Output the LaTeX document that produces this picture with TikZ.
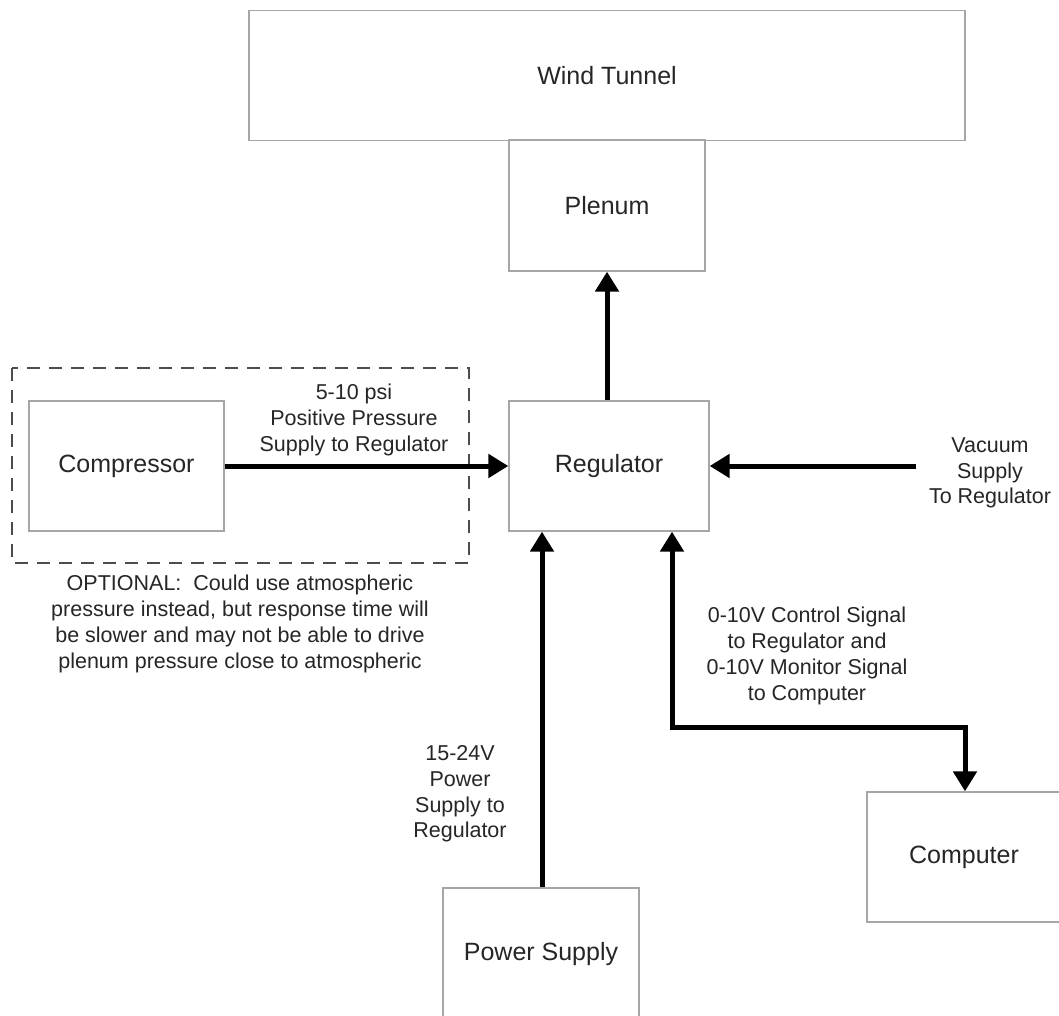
\documentclass[tikz,border=0pt]{standalone}
\usepackage{fontspec}
\setmainfont{Liberation Sans}
\usetikzlibrary{arrows.meta}
\begin{document}
\begin{tikzpicture}[x=1pt,y=-1pt,
  blk/.style={draw=black!35,line width=1.3pt,fill=white,inner sep=0pt,
    font=\fontsize{25}{29}\selectfont,text=black!85},
  lbl/.style={align=center,inner sep=0pt,font=\fontsize{21.5}{25.8}\selectfont,text=black!85},
  conn/.style={line width=5pt,-{Triangle[length=20pt,width=23pt]}},
  conn2/.style={line width=5pt,{Triangle[length=20pt,width=23pt]}-{Triangle[length=20pt,width=23pt]}}]
\useasboundingbox (0,0) rectangle (1059,1016);
\fill[white] (0,0) rectangle (1059,1016);
% dashed optional box
\draw[black!70,line width=2pt,dash pattern=on 13pt off 9pt] (12,368) rectangle (469,563);
% blocks
\node[blk,minimum width=716pt,minimum height=130pt] (wt) at (607,75.5) {Wind Tunnel};
\node[blk,minimum width=196pt,minimum height=131pt] (pl) at (607,205.5) {Plenum};
\node[blk,minimum width=200pt,minimum height=130pt] (reg) at (609,466) {Regulator};
\node[blk,minimum width=195pt,minimum height=130pt] (comp) at (126.5,466) {Compressor};
\node[blk,minimum width=194pt,minimum height=130pt] (pc) at (964,857) {Computer};
\node[blk,minimum width=196pt,minimum height=132pt] (ps) at (541,954) {Power Supply};
% coordinates
\coordinate (vac) at (916,466);
% connectors
\draw[conn] (reg.north -| 607,0) -- (pl.south -| 607,0);
\draw[conn] (comp.east) -- (reg.west);
\draw[conn] (vac) -- (reg.east);
\draw[conn] (ps.north -| 542,0) -- (reg.south -| 542,0);
\draw[conn2,line join=miter] (reg.south -| 672,0) -- (672,727) -- (965,727) -- (pc.north -| 965,0);
% labels
\node[lbl] (l1) at (354,420) {5-10 psi\\Positive Pressure\\Supply to Regulator};
\node[lbl] (l2) at (990,473) {Vacuum\\Supply\\To Regulator};
\node[lbl] (l3) at (807,656) {0-10V Control Signal\\to Regulator and\\0-10V Monitor Signal\\to Computer};
\node[lbl] (l4) at (460,794) {15-24V\\Power\\Supply to\\Regulator};
\node[lbl] (l5) at (240,624) {OPTIONAL:\ \ Could use atmospheric\\pressure instead, but response time will\\be slower and may not be able to drive\\plenum pressure close to atmospheric};
\end{tikzpicture}
\end{document}
